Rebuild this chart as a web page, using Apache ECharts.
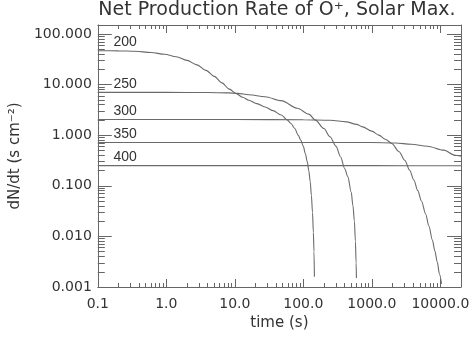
<!DOCTYPE html>
<html>
<head>
<meta charset="utf-8">
<script src="https://cdn.jsdelivr.net/npm/echarts@6/dist/echarts.min.js"></script>
<style>
  html, body { margin: 0; padding: 0; background: #fff; }
  #chart { width: 472px; height: 338px; }
</style>
</head>
<body>
<div id="chart"></div>
<script>
// altitude labels (km)
const altitudes = ['200', '250', '300', '350', '400'];

// time (s) / dN/dt values, one pair of arrays per curve
const t200 = [0.1, 0.2, 0.35, 0.6, 0.94, 1.4, 2.0, 2.8, 3.8, 5.0, 6.5, 8.3, 10.5, 13, 16, 21, 27.6, 36, 47.6, 58, 66, 75, 84, 92, 100, 107, 114, 120, 126, 131, 136, 140, 143, 145];
const v200 = [46.6, 46.3, 45.5, 43, 39.6, 35.5, 30, 24.5, 19, 14.5, 10.8, 8.1, 6.6, 5.6, 4.9, 4.2, 3.6, 3.05, 2.5, 2.0, 1.7, 1.35, 1.0, 0.79, 0.6, 0.43, 0.3, 0.2, 0.12, 0.065, 0.03, 0.012, 0.005, 0.0016];

const t250 = [0.1, 1, 4, 8, 11, 16, 27.6, 47.6, 82, 120, 150, 200, 245, 300, 350, 400, 447, 499, 530, 556, 575, 589, 595];
const v250 = [7.0, 7.0, 6.95, 6.85, 6.7, 6.3, 5.75, 4.8, 3.4, 2.6, 1.98, 1.35, 0.93, 0.6, 0.37, 0.22, 0.15, 0.075, 0.04, 0.02, 0.008, 0.003, 0.0015];

const t300 = [0.1, 10, 100, 245, 424, 600, 731, 1000, 1260, 1600, 1950, 2500, 3020, 3565, 4100, 4680, 5300, 6080, 6800, 7640, 8300, 9010, 9700, 10400];
const v300 = [2.04, 2.04, 2.02, 1.97, 1.83, 1.63, 1.46, 1.2, 1.0, 0.82, 0.685, 0.47, 0.32, 0.203, 0.13, 0.08, 0.05, 0.028, 0.016, 0.0085, 0.0052, 0.0031, 0.0018, 0.00115];

const t350 = [0.1, 100, 1000, 2200, 3760, 6460, 11200, 16400, 20000];
const v350 = [0.716, 0.716, 0.714, 0.70, 0.66, 0.605, 0.505, 0.40, 0.385];

const t400 = [0.1, 1000, 20000];
const v400 = [0.25, 0.25, 0.248];

const xTicks = [0.1, 1, 10, 100, 1000, 10000];
const yTicks = [0.001, 0.01, 0.1, 1, 10, 100];

const times = [t200, t250, t300, t350, t400];
const values = [v200, v250, v300, v350, v400];

// minor ticks 2..9 in every decade
function minorTicks(lo, hi) {
  const out = [];
  for (let d = Math.floor(Math.log10(lo)); d <= Math.ceil(Math.log10(hi)); d++) {
    for (let k = 2; k <= 9; k++) {
      const v = k * Math.pow(10, d);
      if (v > lo && v < hi) out.push(v);
    }
  }
  return out;
}

const xMin = 0.1, xMax = 20000;
const yMin = 0.001, yMax = 150;
const axisColor = '#666';
const textColor = '#333';
const font = 'DejaVu Sans';

function xAxisDef(position, ticks, len, isMain) {
  return {
    type: 'log', position: position, min: xMin, max: xMax, logBase: 10,
    axisLine: { show: isMain, lineStyle: { color: axisColor, width: 1 } },
    axisTick: { show: true, inside: true, length: len, customValues: ticks, lineStyle: { color: axisColor, width: 1 } },
    axisLabel: {
      show: isMain && position === 'bottom', customValues: xTicks, margin: 10,
      color: textColor, fontFamily: font, fontSize: 14,
      formatter: (v) => Number(v).toFixed(1)
    },
    splitLine: { show: false },
    minorTick: { show: false },
    name: isMain && position === 'bottom' ? 'time (s)' : '',
    nameLocation: 'middle', nameGap: 28,
    nameTextStyle: { color: textColor, fontFamily: font, fontSize: 15 }
  };
}

function yAxisDef(position, ticks, len, isMain) {
  return {
    type: 'log', position: position, min: yMin, max: yMax, logBase: 10,
    axisLine: { show: isMain, lineStyle: { color: axisColor, width: 1 } },
    axisTick: { show: true, inside: true, length: len, customValues: ticks, lineStyle: { color: axisColor, width: 1 } },
    axisLabel: {
      show: isMain && position === 'left', customValues: yTicks, margin: 6,
      color: textColor, fontFamily: font, fontSize: 14,
      formatter: (v) => Number(v).toFixed(3)
    },
    splitLine: { show: false },
    minorTick: { show: false },
    name: isMain && position === 'left' ? 'dN/dt (s cm⁻²)' : '',
    nameLocation: 'middle', nameGap: 72,
    nameTextStyle: { color: textColor, fontFamily: font, fontSize: 15 }
  };
}

const xMinor = minorTicks(xMin, xMax);
const yMinor = minorTicks(yMin, yMax);

const series = altitudes.map((alt, i) => ({
  name: alt,
  type: 'line',
  xAxisIndex: 0,
  yAxisIndex: 0,
  data: times[i].map((t, j) => [t, values[i][j]]),
  showSymbol: false,
  smooth: 0.3,
  smoothMonotone: 'x',
  lineStyle: { color: '#6a6a6a', width: 1.1 },
  markPoint: {
    symbol: 'circle',
    symbolSize: 1,
    itemStyle: { color: 'rgba(0,0,0,0)' },
    label: {
      show: true, position: 'inside', formatter: alt,
      color: textColor, fontFamily: 'Liberation Sans', fontSize: 14
    },
    data: [{ coord: [0.25, values[i][0] * 1.45] }]
  }
}));

const chart = echarts.init(document.getElementById('chart'), null, { renderer: 'canvas' });
chart.setOption({
  animation: false,
  backgroundColor: '#fff',
  title: {
    text: 'Net Production Rate of O⁺, Solar Max.',
    left: 277, top: 1, textAlign: 'center', padding: 0,
    textStyle: { color: textColor, fontFamily: font, fontSize: 19, fontWeight: 'normal' }
  },
  grid: { left: 92, right: 9, top: 25, bottom: 51, containLabel: false },
  xAxis: [
    xAxisDef('bottom', xTicks, 8, true),
    xAxisDef('bottom', xMinor, 4, false),
    xAxisDef('top', xTicks, 8, true),
    xAxisDef('top', xMinor, 4, false)
  ],
  yAxis: [
    yAxisDef('left', yTicks, 14, true),
    yAxisDef('left', yMinor, 7, false),
    yAxisDef('right', yTicks, 14, true),
    yAxisDef('right', yMinor, 7, false)
  ],
  series: series
});
</script>
</body>
</html>
